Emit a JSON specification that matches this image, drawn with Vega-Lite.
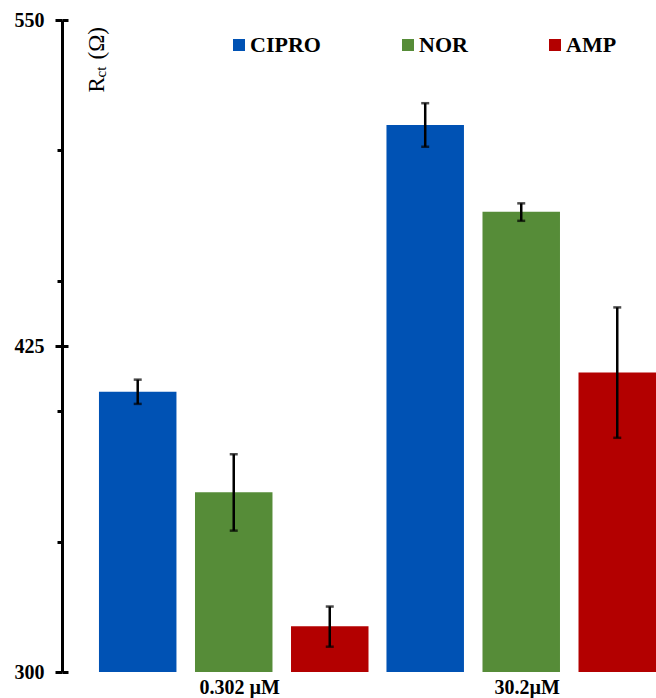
{
  "$schema": "https://vega.github.io/schema/vega-lite/v6.json",
  "width": 594,
  "height": 652,
  "autosize": {"type": "none"},
  "padding": {"left": 62, "top": 20, "right": 0, "bottom": 26},
  "background": "white",
  "config": {"view": {"stroke": null}, "font": "Liberation Serif"},
  "data": {"values": [
    {"conc": "0.302 µM", "drug": "CIPRO", "value": 407.5, "lo": 402.8, "hi": 412.1},
    {"conc": "0.302 µM", "drug": "NOR", "value": 368.9, "lo": 354.2, "hi": 383.5},
    {"conc": "0.302 µM", "drug": "AMP", "value": 317.5, "lo": 309.7, "hi": 325.1},
    {"conc": "30.2µM", "drug": "CIPRO", "value": 509.7, "lo": 501.4, "hi": 518.1},
    {"conc": "30.2µM", "drug": "NOR", "value": 476.5, "lo": 473.0, "hi": 479.7},
    {"conc": "30.2µM", "drug": "AMP", "value": 414.8, "lo": 389.8, "hi": 439.8}
  ]},
  "encoding": {
    "x": {
      "field": "conc", "type": "nominal", "sort": ["0.302 µM", "30.2µM"],
      "scale": {"paddingInner": 0.0625, "paddingOuter": 0.0643, "align": 1},
      "axis": {"title": null, "domain": false, "ticks": false, "labelAngle": 0,
        "labelFont": "Liberation Serif", "labelFontWeight": "bold", "labelFontSize": 20,
        "labelColor": "#000", "labelPadding": 5, "labelOffset": 6}
    },
    "xOffset": {
      "field": "drug", "type": "nominal", "sort": ["CIPRO", "NOR", "AMP"],
      "scale": {"paddingInner": 0.193, "paddingOuter": 0}
    }
  },
  "layer": [
    {
      "mark": {"type": "bar"},
      "encoding": {
        "y": {
          "field": "value", "type": "quantitative",
          "scale": {"domain": [300, 550], "nice": false, "zero": false},
          "axis": {"orient": "left", "values": [300, 425, 550], "tickSize": 7, "tickWidth": 3, "tickColor": "#000",
            "domainWidth": 3, "domainColor": "#000", "grid": false,
            "labelFont": "Liberation Serif", "labelFontWeight": "bold", "labelFontSize": 20,
            "labelColor": "#000", "labelPadding": 11,
            "title": "R", "titleX": 41, "titleY": 72, "titleAngle": 270, "titleAlign": "left",
            "titleBaseline": "alphabetic", "titleFont": "Liberation Serif", "titleFontSize": 23,
            "titleFontWeight": "normal", "titleColor": "#000"}
        },
        "y2": {"datum": 300},
        "color": {
          "field": "drug", "type": "nominal",
          "scale": {"domain": ["CIPRO", "NOR", "AMP"], "range": ["#0052B4", "#568C38", "#B30000"]},
          "legend": {"orient": "none", "legendX": 166, "legendY": 14, "direction": "horizontal",
            "title": null, "symbolType": "square", "symbolSize": 144, "symbolStrokeWidth": 0,
            "labelFont": "Liberation Serif", "labelFontWeight": "bold", "labelFontSize": 22,
            "labelColor": "#000", "labelOffset": 0, "columnPadding": 76}
        }
      }
    },
    {
      "mark": {"type": "rule", "strokeWidth": 2.5, "color": "#000"},
      "encoding": {
        "y": {
          "field": "lo", "type": "quantitative",
          "scale": {"domain": [300, 550], "nice": false, "zero": false},
          "axis": {"orient": "left", "values": [300, 425, 550], "tickSize": -6, "tickWidth": 3, "tickColor": "#000",
            "domain": false, "labels": false, "grid": false,
            "title": "ct", "titleX": 43, "titleY": 57, "titleAngle": 270, "titleAlign": "left",
            "titleBaseline": "alphabetic", "titleFont": "Liberation Serif", "titleFontSize": 15,
            "titleFontWeight": "normal", "titleColor": "#000"}
        },
        "y2": {"field": "hi"}
      }
    },
    {
      "mark": {"type": "tick", "orient": "horizontal", "size": 8, "thickness": 2.5, "color": "#000"},
      "encoding": {
        "y": {
          "field": "lo", "type": "quantitative",
          "scale": {"domain": [300, 550], "nice": false, "zero": false},
          "axis": {"orient": "left", "values": [350, 400, 450, 500], "tickSize": 5, "tickWidth": 3, "tickColor": "#000",
            "domain": false, "labels": false, "grid": false,
            "title": "(Ω)", "titleX": 41, "titleY": 39, "titleAngle": 270, "titleAlign": "left",
            "titleBaseline": "alphabetic", "titleFont": "Liberation Serif", "titleFontSize": 23,
            "titleFontWeight": "normal", "titleColor": "#000"}
        }
      }
    },
    {
      "mark": {"type": "tick", "orient": "horizontal", "size": 8, "thickness": 2.5, "color": "#000"},
      "encoding": {
        "y": {
          "field": "hi", "type": "quantitative",
          "scale": {"domain": [300, 550], "nice": false, "zero": false},
          "axis": null
        }
      }
    }
  ],
  "resolve": {"axis": {"y": "independent"}}
}
